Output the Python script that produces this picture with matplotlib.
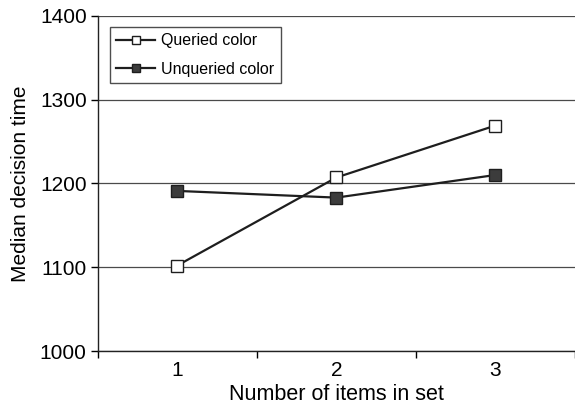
import numpy as np
import matplotlib
matplotlib.use('Agg')
import matplotlib.pyplot as plt

plt.rcParams['font.family'] = ['Liberation Sans', 'DejaVu Sans']

# data
set_sizes = [1, 2, 3]
queried = [1102, 1207, 1269]
unqueried = [1191, 1183, 1210]
y_ticks = [1000, 1100, 1200, 1300, 1400]

fig = plt.figure(figsize=(5.75, 4.05), dpi=100)
ax = fig.add_axes([0.170, 0.1333, 0.830, 0.8279])

ax.plot(set_sizes, queried, '-s', color='#1e1e1e', lw=1.6, ms=8.4,
        mfc='white', mec='#1e1e1e', mew=1.0, label='Queried color', zorder=3)
ax.plot(set_sizes, unqueried, '-s', color='#1e1e1e', lw=1.6, ms=8.4,
        mfc='#3c3c3c', mec='#1e1e1e', mew=1.0, label='Unqueried color', zorder=3)

# category-style x axis, cut off at the right edge of the figure
ax.set_xlim(0.5, 3.46)
ax.set_ylim(1000, 1400)
ax.set_yticks(y_ticks)
ax.set_xticks(set_sizes)
ax.set_xticks([0.5, 1.5, 2.5, 3.5], minor=True)
ax.tick_params(axis='x', which='major', length=0, labelsize=15, pad=7)
ax.tick_params(axis='x', which='minor', length=5, width=1, direction='out')
ax.tick_params(axis='y', length=5, width=1, direction='out', labelsize=15, pad=3)

ax.yaxis.grid(True, color='#4a4a4a', lw=0.9)
ax.set_axisbelow(True)
for s in ['top', 'right']:
    ax.spines[s].set_visible(False)
for s in ['left', 'bottom']:
    ax.spines[s].set_color('#222222')
    ax.spines[s].set_linewidth(1.0)

ax.set_xlabel('Number of items in set', fontsize=15.5, labelpad=3)
ax.set_ylabel('Median decision time', fontsize=15, labelpad=7)

leg = ax.legend(loc='upper left', bbox_to_anchor=(0.0256, 0.967), borderaxespad=0,
                fontsize=11.5, frameon=True, fancybox=False, edgecolor='#222222',
                handlelength=2.4, markerscale=0.75, borderpad=0.4,
                labelspacing=0.85, handletextpad=0.4)
leg.get_frame().set_linewidth(1.0)

fig.savefig('out.png', dpi=100)
